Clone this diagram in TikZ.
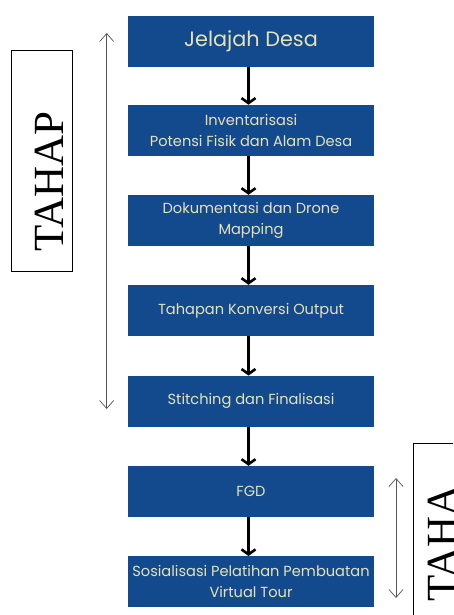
\documentclass[tikz,border=0pt]{standalone}
\usepackage{fontspec}
\setmainfont{Liberation Serif}
\newfontfamily\boxfont{Poppins}
\usetikzlibrary{arrows.meta}
\definecolor{boxblue}{HTML}{134A8E}
\definecolor{boxtext}{HTML}{E6E2B8}
\definecolor{sidegray}{HTML}{555555}
\tikzset{
  stepbox/.style={draw=none, fill=boxblue, minimum width=246pt, minimum height=51pt,
    inner sep=0pt, align=center, text=boxtext, font=\boxfont\fontsize{14.6}{21}\selectfont},
  flowarrow/.style={line width=2.6pt, black, -{Straight Barb[length=5pt,width=14pt]}},
  sidearrow/.style={line width=0.7pt, sidegray, {Straight Barb[length=8pt,width=14pt]}-{Straight Barb[length=8pt,width=14pt]}},
  sideframe/.style={draw=black, line width=0.8pt},
  sidetext/.style={rotate=90, anchor=base west, inner sep=0pt, font=\fontsize{43}{43}\selectfont}
}
\begin{document}
\begin{tikzpicture}[x=1pt,y=-1pt]
\useasboundingbox (0,0) rectangle (453,615);
\clip (0,0) rectangle (453,615);
\fill[white] (0,0) rectangle (453,615);
\node[stepbox, font=\boxfont\fontsize{20.8}{24}\selectfont] (b1) at (251,41.2) {Jelajah Desa};
\node[stepbox] (b2) at (251,130.4) {Inventarisasi\\Potensi Fisik dan Alam Desa};
\node[stepbox] (b3) at (251,220.5) {Dokumentasi dan Drone\\Mapping};
\node[stepbox] (b4) at (251,310.5) {Tahapan Konversi Output};
\node[stepbox] (b5) at (251,401.3) {Stitching dan Finalisasi};
\node[stepbox] (b6) at (251,491.5) {FGD};
\node[stepbox] (b7) at (251,581.7) {Sosialisasi Pelatihan Pembuatan\\Virtual Tour};
\foreach \a/\b in {b1/b2,b2/b3,b3/b4,b4/b5,b5/b6,b6/b7}
  \draw[flowarrow] ([xshift=-2.5pt]\a.south) -- ([xshift=-2.5pt]\b.north);
% left side
\node[sideframe, minimum width=60.6pt, minimum height=221.7pt, inner sep=0pt] (lframe) at (42,160.85) {};
\node[sidetext] (ltext) at (63.5,252) {TAHAP};
\coordinate (la) at (106.7,33);
\coordinate (lb) at (106.7,409);
\draw[sidearrow] (la) -- (lb);
% right side
\node[sideframe, minimum width=80pt, minimum height=250pt, inner sep=0pt, anchor=north west] (rframe) at (413.3,443) {};
\node[sidetext] (rtext) at (456.5,602) {TAHA};
\coordinate (ra) at (396,478);
\coordinate (rb) at (396,598);
\draw[sidearrow] (ra) -- (rb);
\end{tikzpicture}
\end{document}
